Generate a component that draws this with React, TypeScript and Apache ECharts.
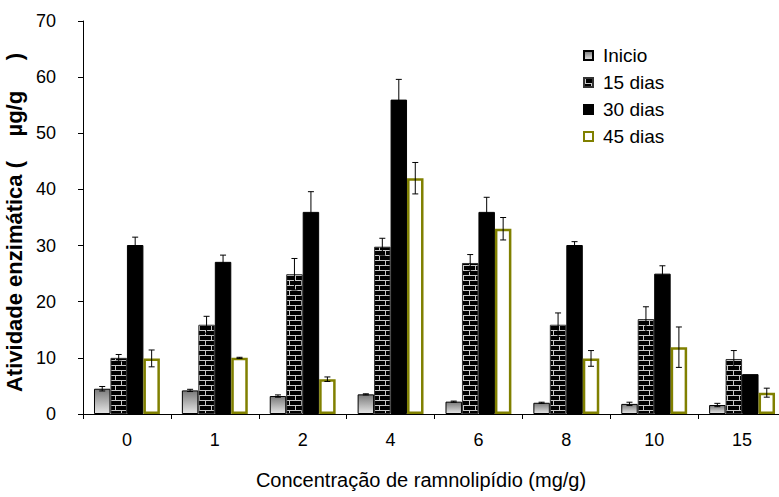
import React, { useEffect, useRef } from "react";
import * as echarts from "echarts";

const categories = ["0", "1", "2", "4", "6", "8", "10", "15"];
const seriesNames = ["Inicio", "15 dias", "30 dias", "45 dias"];
const inicio = [4.5, 4.2, 3.2, 3.5, 2.2, 2.0, 1.8, 1.6];
const inicioErr = [0.4, 0.2, 0.2, 0.1, 0.1, 0.1, 0.3, 0.3];
const dias15 = [10.0, 15.9, 24.9, 29.8, 26.9, 15.9, 16.9, 9.8];
const dias15Err = [0.6, 1.5, 2.8, 1.5, 1.5, 2.1, 2.2, 1.5];
const dias30 = [30.1, 27.1, 36.0, 56.0, 36.0, 30.1, 25.0, 7.1];
const dias30Err = [1.4, 1.2, 3.6, 3.6, 2.6, 0.6, 1.4, 0];
const dias45 = [9.9, 10.0, 6.2, 42.0, 33.0, 9.9, 11.9, 3.8];
const dias45Err = [1.5, 0.1, 0.4, 2.8, 2.0, 1.4, 3.6, 0.8];
const yTicks = { min: 0, max: 70, interval: 10 };

const FONT = "'Liberation Sans', Arial, sans-serif";

const brickSvg =
  '<svg xmlns="http://www.w3.org/2000/svg" width="12" height="10">' +
  '<rect width="12" height="10" fill="#000"/>' +
  '<path d="M0 0.5H12M0 5.5H12M1.5 0.5V5.5M7.5 5.5V10" stroke="#c8c8c8" stroke-width="1" fill="none"/>' +
  "</svg>";
const brickUrl = "data:image/svg+xml;charset=utf-8," + encodeURIComponent(brickSvg);

export default function App() {
  const ref = useRef<HTMLDivElement>(null);
  useEffect(() => {
    if (!ref.current) return;
    const chart = echarts.init(ref.current, null, { renderer: "svg" });
    const values = [inicio, dias15, dias30, dias45];
    const errs = [inicioErr, dias15Err, dias30Err, dias45Err];
    const errData: number[][] = [];
    values.forEach((arr, s) =>
      arr.forEach((v, i) => {
        if (errs[s][i] > 0) errData.push([i, v, errs[s][i], s]);
      })
    );
    const catGap = 0.25;
    const styles: any[] = [
      {
        color: new echarts.graphic.LinearGradient(0, 0, 0, 1, [
          { offset: 0, color: "#7a7a7a" },
          { offset: 1, color: "#e6e6e6" },
        ]),
        borderColor: "#000",
        borderWidth: 1,
      },
      {
        color: { image: brickUrl, repeat: "repeat", imageWidth: 12, imageHeight: 10 },
        borderColor: "#333",
        borderWidth: 1,
      },
      { color: "#000", borderColor: "#000", borderWidth: 1 },
      { color: "#fff", borderColor: "#808000", borderWidth: 2.5 },
    ];
    const barSeries = values.map((arr, s) => ({
      name: seriesNames[s],
      type: "bar",
      data: arr,
      barGap: "0%",
      barCategoryGap: catGap * 100 + "%",
      itemStyle: styles[s],
    }));
    chart.setOption({
      animation: false,
      backgroundColor: "#fff",
      textStyle: { fontFamily: FONT },
      grid: { left: 83, right: -7, top: 21, bottom: 83, outerBoundsMode: "none" },
      legend: {
        data: seriesNames,
        orient: "vertical",
        left: 578,
        top: 41,
        itemWidth: 9,
        itemHeight: 9,
        itemGap: 8,
        icon: "rect",
        textStyle: { fontSize: 19, color: "#000", fontFamily: FONT, padding: [0, 0, 0, 5] },
      },
      xAxis: {
        type: "category",
        data: categories,
        axisLine: { lineStyle: { color: "#000", width: 1 } },
        axisTick: { show: true, length: 5, lineStyle: { color: "#000" } },
        axisLabel: { fontSize: 18, color: "#000", margin: 17, fontFamily: FONT },
        name: "Concentração de ramnolipídio (mg/g)",
        nameLocation: "middle",
        nameGap: 56,
        nameTextStyle: { fontSize: 20, color: "#000", fontFamily: FONT, padding: [0, 27, 0, 0] },
      },
      yAxis: {
        type: "value",
        min: yTicks.min,
        max: yTicks.max,
        interval: yTicks.interval,
        axisLine: { show: true, lineStyle: { color: "#000", width: 1 } },
        axisTick: { show: true, length: 5, lineStyle: { color: "#000" } },
        splitLine: { show: false },
        axisLabel: { fontSize: 18, color: "#000", margin: 27, fontFamily: FONT },
        name: "Atividade enzimática (    µg/g     )",
        nameLocation: "middle",
        nameGap: 53,
        nameTextStyle: {
          fontSize: 22,
          fontWeight: "bold",
          color: "#000",
          fontFamily: FONT,
          padding: [0, 10, 0, 0],
        },
      },
      series: [
        ...barSeries,
        {
          name: "err",
          type: "custom",
          z: 5,
          data: errData,
          encode: { x: 0, y: 1 },
          renderItem: (params: any, api: any) => {
            const ci = api.value(0);
            const v = api.value(1);
            const e = api.value(2);
            const s = api.value(3);
            const band = api.size([1, 0])[0];
            const bw = (band * (1 - catGap)) / 4;
            const c = api.coord([ci, v]);
            const x = c[0] + (s - 1.5) * bw;
            const yTop = api.coord([ci, v + e])[1];
            const yBot = api.coord([ci, v - e])[1];
            const cap = 3;
            const st = { stroke: "#000", lineWidth: 1 };
            return {
              type: "group",
              children: [
                { type: "line", shape: { x1: x, y1: yTop, x2: x, y2: yBot }, style: st },
                { type: "line", shape: { x1: x - cap, y1: yTop, x2: x + cap, y2: yTop }, style: st },
                { type: "line", shape: { x1: x - cap, y1: yBot, x2: x + cap, y2: yBot }, style: st },
              ],
            };
          },
        },
      ],
    });
    return () => chart.dispose();
  }, []);
  return (
    <div
      ref={ref}
      style={{ position: "fixed", left: 0, top: 0, width: 779, height: 497 }}
    />
  );
}
